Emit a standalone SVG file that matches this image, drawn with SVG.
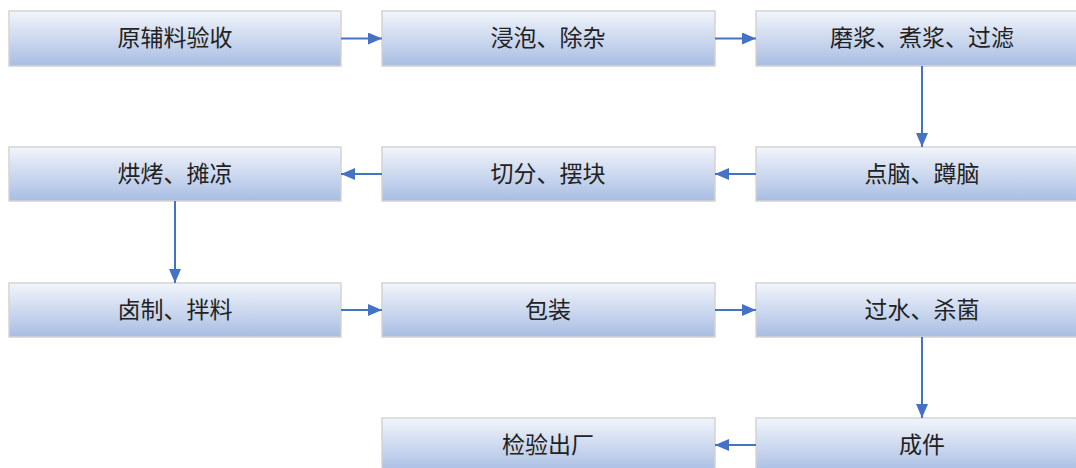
<svg xmlns="http://www.w3.org/2000/svg" width="1076" height="468" viewBox="0 0 1076 468">
<defs>
<linearGradient id="g" x1="0" y1="0" x2="0" y2="1">
<stop offset="0" stop-color="#f2f5fb"/>
<stop offset="1" stop-color="#a8bde3"/>
</linearGradient>
<marker id="a" markerWidth="14" markerHeight="12" refX="14" refY="6" orient="auto" markerUnits="userSpaceOnUse">
<path d="M0,0 L14,6 L0,12 Z" fill="#4472c4"/>
</marker>
<style>
.b{fill:url(#g);stroke:#d3d3d3;stroke-width:1.5}
.t{font-family:"Liberation Serif","Noto Sans CJK SC",serif;font-size:23px;fill:#222;text-anchor:middle;dominant-baseline:central}
.c{stroke:#4472c4;stroke-width:2;fill:none;marker-end:url(#a)}
</style>
</defs>
<rect width="1076" height="468" fill="#fff"/>
<g id="n1"><rect class="b" x="9" y="11" width="332" height="55"/><text class="t" x="175" y="38.5">原辅料验收</text></g>
<g id="n2"><rect class="b" x="382" y="11" width="333" height="55"/><text class="t" x="548" y="38.5">浸泡、除杂</text></g>
<g id="n3"><rect class="b" x="756" y="11" width="333" height="55"/><text class="t" x="922" y="38.5">磨浆、煮浆、过滤</text></g>
<g id="n4"><rect class="b" x="756" y="147" width="333" height="54"/><text class="t" x="922" y="174">点脑、蹲脑</text></g>
<g id="n5"><rect class="b" x="382" y="147" width="333" height="54"/><text class="t" x="548" y="174">切分、摆块</text></g>
<g id="n6"><rect class="b" x="9" y="147" width="332" height="54"/><text class="t" x="175" y="174">烘烤、摊凉</text></g>
<g id="n7"><rect class="b" x="9" y="283" width="332" height="54"/><text class="t" x="175" y="310">卤制、拌料</text></g>
<g id="n8"><rect class="b" x="382" y="283" width="333" height="54"/><text class="t" x="548" y="310">包装</text></g>
<g id="n9"><rect class="b" x="756" y="283" width="333" height="54"/><text class="t" x="922" y="310">过水、杀菌</text></g>
<g id="n10"><rect class="b" x="756" y="418" width="333" height="55"/><text class="t" x="922" y="445">成件</text></g>
<g id="n11"><rect class="b" x="382" y="418" width="333" height="55"/><text class="t" x="548" y="445">检验出厂</text></g>
<g id="connectors">
<line class="c" x1="341" y1="38.5" x2="382" y2="38.5"/>
<line class="c" x1="715" y1="38.5" x2="756" y2="38.5"/>
<line class="c" x1="922" y1="66" x2="922" y2="147"/>
<line class="c" x1="756" y1="174" x2="715" y2="174"/>
<line class="c" x1="382" y1="174" x2="341" y2="174"/>
<line class="c" x1="175" y1="201" x2="175" y2="283"/>
<line class="c" x1="341" y1="310" x2="382" y2="310"/>
<line class="c" x1="715" y1="310" x2="756" y2="310"/>
<line class="c" x1="922" y1="337" x2="922" y2="418"/>
<line class="c" x1="756" y1="445" x2="715" y2="445"/>
</g>
</svg>
